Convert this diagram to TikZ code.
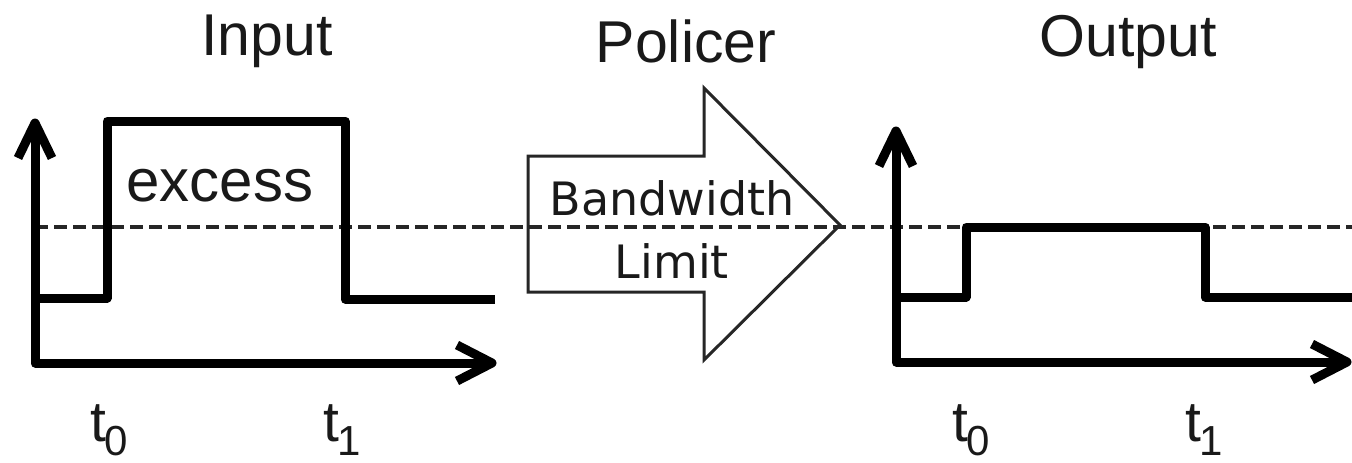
\documentclass[tikz,border=0pt]{standalone}
\usepackage{fontspec}
\setmainfont{Liberation Sans}
\newfontfamily\arrowfont{DejaVu Sans}
% time label with a lowered index digit
\newcommand\tlabel[1]{t\kern-2pt\raisebox{-14pt}{\fontsize{42}{42}\selectfont #1}}
\begin{document}
\begin{tikzpicture}[x=1pt,y=-1pt,
  axisline/.style={line width=9pt, line cap=butt, line join=round, black},
  signal/.style={line width=9pt, line cap=butt, line join=round, black},
  limitline/.style={line width=3.5pt, dash pattern=on 13pt off 6pt, black!85},
  policerbox/.style={draw=black!85, line width=3pt, fill=white, line join=miter},
  title/.style={font=\fontsize{59}{59}\selectfont, anchor=base, inner sep=0pt, text=black!90},
  excesslabel/.style={font=\fontsize{60}{60}\selectfont, anchor=base, inner sep=0pt, text=black!90},
  boxtext/.style={font=\arrowfont\fontsize{46}{46}\selectfont, anchor=base, inner sep=0pt, text=black!90},
  timelabel/.style={font=\fontsize{57}{57}\selectfont, anchor=base west, inner sep=0pt, text=black!90}]
\useasboundingbox (0,0) rectangle (1352,463);

% titles
\node[title] (input)  at (267,55) {Input};
\node[title] (policer) at (686,62) {Policer};
\node[title] (output) at (1128,56) {Output};

% policer arrow
\draw[policerbox] (528,156) -- (704,156) -- (704,88) -- (840,225)
  -- (704,360) -- (704,292) -- (528,292) -- cycle;
\node[boxtext] (bw) at (672,215) {Bandwidth};
\node[boxtext] (lim) at (672,278) {Limit};

% bandwidth limit level
\coordinate (limA) at (35,227);
\coordinate (limB) at (1352,227);
\draw[limitline] (limA) -- (limB);

% input panel axes
\coordinate (o1) at (35,363);
\coordinate (y1) at (35,123);
\coordinate (x1) at (492,363);
\draw[axisline] (y1) -- (o1) -- (x1);
\draw[axisline] (y1) ++(-17,35) -- (y1) -- ++(17,35);
\draw[axisline] (x1) ++(-35,-18) -- (x1) -- ++(-35,18);

% input signal
\draw[signal] (35,298) -- (107,298) -- (107,121) -- (345,121) -- (345,299) -- (495,299);
\node[excesslabel] (excess) at (220,201) {excess};

% output panel axes
\coordinate (o2) at (896,362);
\coordinate (y2) at (896,131);
\coordinate (x2) at (1347,362);
\draw[axisline] (y2) -- (o2) -- (x2);
\draw[axisline] (y2) ++(-17,35) -- (y2) -- ++(17,35);
\draw[axisline] (x2) ++(-35,-18) -- (x2) -- ++(-35,18);

% output signal, capped at the limit
\draw[signal] (896,297) -- (966,297) -- (966,227) -- (1205,227) -- (1205,297) -- (1352,297);

% time marks
\node[timelabel] (t0a) at (90,441) {\tlabel{0}};
\node[timelabel] (t1a) at (323,441) {\tlabel{1}};
\node[timelabel] (t0b) at (952,441) {\tlabel{0}};
\node[timelabel] (t1b) at (1185,441) {\tlabel{1}};
\end{tikzpicture}
\end{document}
